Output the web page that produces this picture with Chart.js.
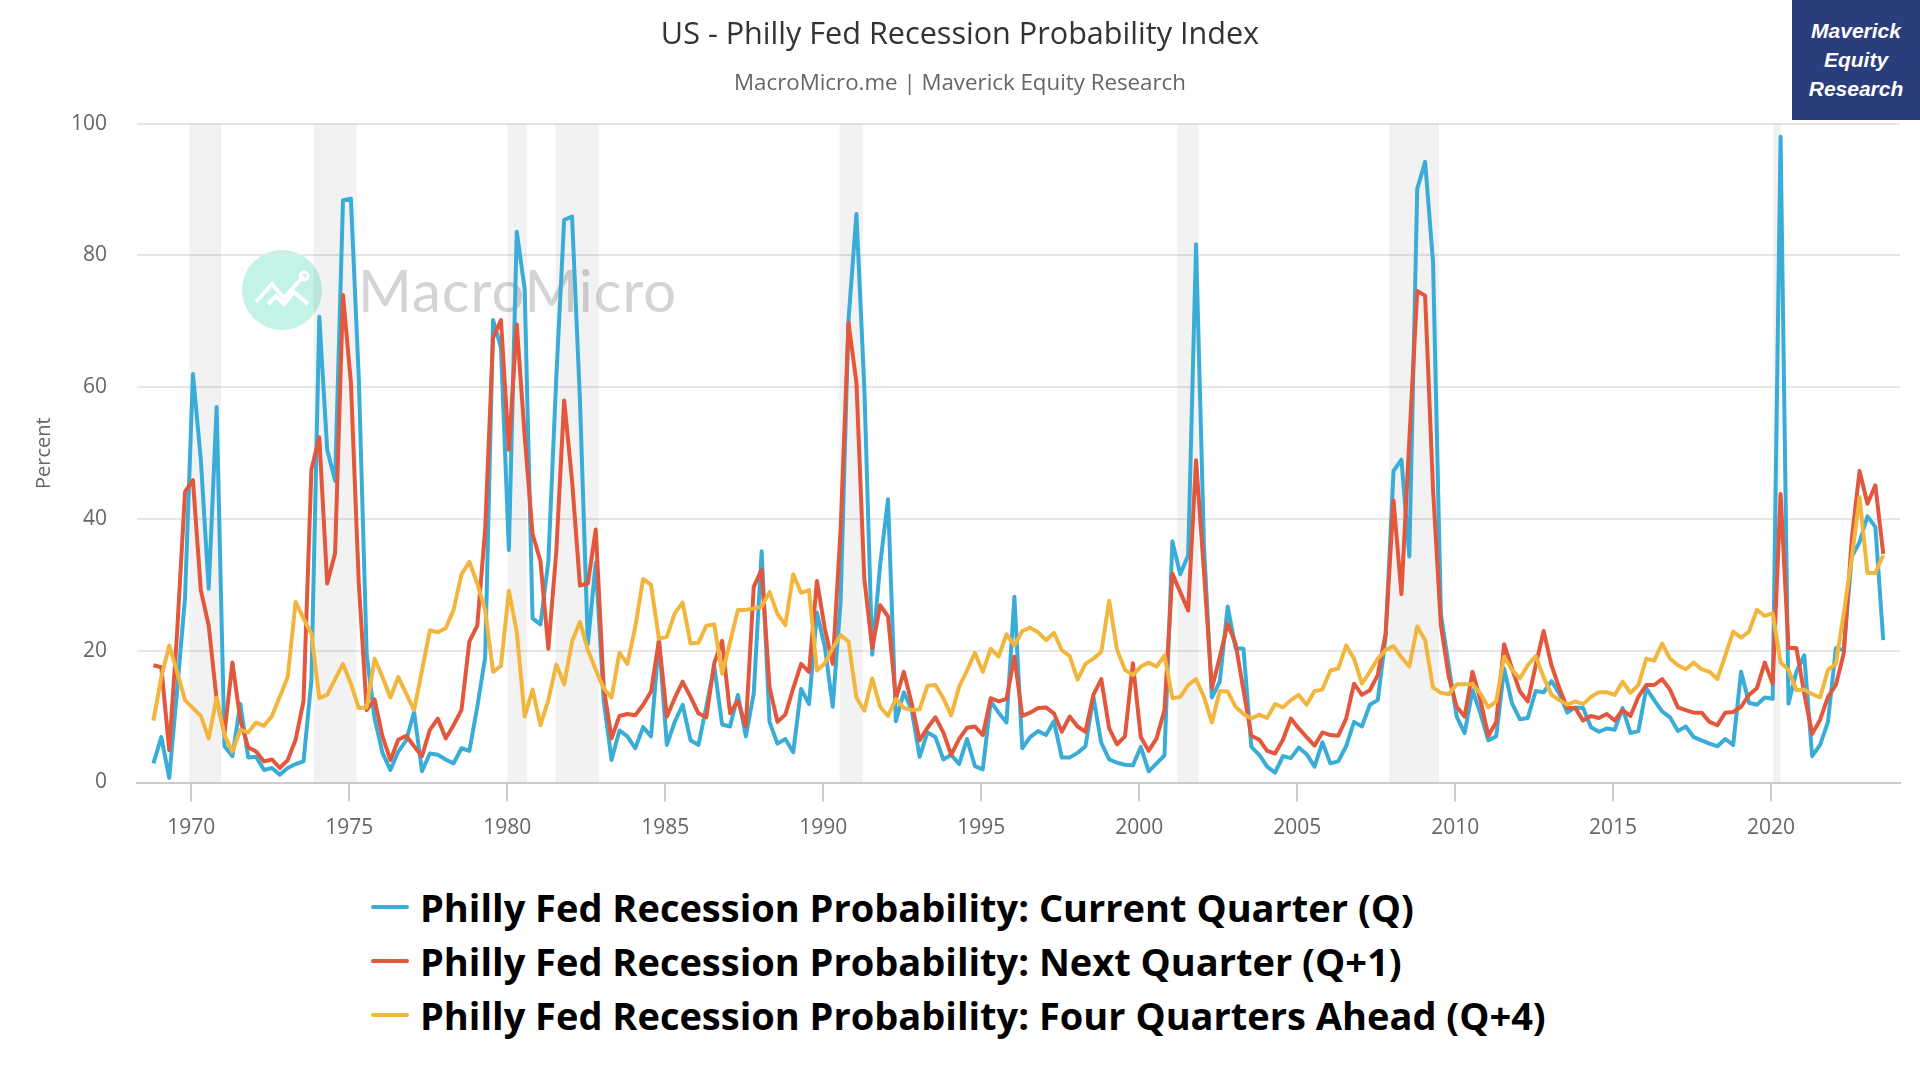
<!DOCTYPE html>
<html>
<head>
<meta charset="utf-8">
<title>US - Philly Fed Recession Probability Index</title>
<script src="https://cdn.jsdelivr.net/npm/chart.js@4/dist/chart.umd.min.js"></script>
<style>
	html, body { margin: 0; padding: 0; background: #fff; }
	#page { position: relative; width: 1920px; height: 1080px; overflow: hidden; font-family: "Open Sans", sans-serif; }
	#probChart { position: absolute; left: 0; top: 0; z-index: 2; }
	#mark { position: absolute; left: 242px; top: 250px; z-index: 1; }
	#markText { position: absolute; left: 358px; top: 250px; z-index: 1; font-family: Lato, sans-serif; font-size: 58px; line-height: 80px; color: #d4d4d4; letter-spacing: 1px; }
	#badge { position: absolute; left: 1792px; top: 0; width: 128px; height: 120px; z-index: 3; background: #2a3d7c; color: #fff; text-align: center; font: italic bold 21px/29px "Liberation Sans", sans-serif; padding-top: 16px; box-sizing: border-box; }
	#legend { position: absolute; left: 371px; top: 880px; z-index: 3; }
	.row { display: flex; align-items: center; height: 54.2px; font-weight: 700; font-size: 38px; color: #000; white-space: nowrap; }
	.swatch { width: 38px; height: 4px; border-radius: 2px; margin-right: 11px; }
</style>
</head>
<body>
<div id="page">
	<svg id="mark" width="80" height="80" viewBox="0 0 80 80">
		<circle cx="40" cy="40" r="40" fill="#c3f2e7"></circle>
		<polyline points="14,52 30,34 42,48 58,30 62,26" fill="none" stroke="#fff" stroke-width="4"></polyline>
		<polyline points="26,54 34,46 42,54 52,42 66,54" fill="none" stroke="#fff" stroke-width="4"></polyline>
		<circle cx="62" cy="26" r="4" fill="none" stroke="#fff" stroke-width="3"></circle>
	</svg>
	<div id="markText">MacroMicro</div>
	<canvas id="probChart" width="1920" height="860"></canvas>
	<div id="badge">Maverick<br>Equity<br>Research</div>
	<div id="legend"></div>
</div>
<script>
	const chartTitle = 'US - Philly Fed Recession Probability Index';
	const chartSubtitle = 'MacroMicro.me | Maverick Equity Research';

	// quarterly, 1968 Q4 to 2023 Q3
	const firstYear = 1968;
	const firstQuarter = 4;

	const currentQuarter = [
		2.9, 6.9, 0.7, 14, 28, 62, 49, 29.4, 57, 5.5,
		4, 11.9, 3.8, 3.9, 1.9, 2.2, 1.2, 2.2, 2.8, 3.2,
		15.5, 70.7, 50.5, 45.8, 88.4, 88.6, 61.4, 19.4, 9.7, 4.5,
		1.9, 4.7, 6.4, 10.7, 1.7, 4.4, 4.2, 3.5, 2.9, 5.2,
		4.8, 11.5, 19, 70.2, 66, 35.3, 83.6, 74.9, 24.9, 24,
		33.6, 61.4, 85.4, 85.9, 58, 21, 33.4, 12.5, 3.4, 7.9,
		7, 5.2, 8.4, 7, 21.6, 5.7, 9.2, 11.8, 6.4, 5.7,
		11.5, 17.6, 8.8, 8.5, 13.3, 7, 13.5, 35.1, 9.2, 5.9,
		6.6, 4.6, 14.2, 11.9, 25.8, 20.6, 11.5, 27.5, 70.2, 86.3,
		60, 19.4, 33, 43, 9.3, 13.7, 11, 3.9, 7.6, 6.9,
		3.5, 4.2, 2.8, 6.6, 2.5, 2, 12.3, 10.6, 9.1, 28.2,
		5.2, 6.9, 7.8, 7.2, 9.3, 3.8, 3.8, 4.5, 5.5, 13,
		6, 3.5, 3, 2.7, 2.6, 5.4, 1.7, 2.9, 4.1, 36.6,
		31.6, 34.5, 81.7, 36, 12.9, 15.3, 26.7, 20.4, 20.3, 5.4,
		4.2, 2.4, 1.5, 4, 3.7, 5.3, 4.3, 2.4, 6.1, 2.9,
		3.2, 5.5, 9.2, 8.5, 11.8, 12.5, 22.1, 47.3, 49, 34.3,
		90.1, 94.2, 79, 25.5, 17.6, 10, 7.5, 14, 10.5, 6.4,
		7, 17.3, 12, 9.6, 9.8, 13.9, 13.7, 15.4, 13.5, 10.6,
		11.4, 11.3, 8.4, 7.7, 8.2, 8, 11.3, 7.5, 7.8, 14.3,
		12.5, 10.8, 9.9, 7.8, 8.5, 6.9, 6.4, 5.9, 5.5, 6.6,
		5.7, 16.8, 12.1, 11.8, 12.9, 12.7, 98, 12, 16.8, 19.3,
		4, 5.7, 9.2, 20.4, 20.1, 34.2, 36.5, 40.4, 38.8, 21.6
	];
	const nextQuarter = [
		17.8, 17.5, 4.9, 22.8, 44.1, 45.9, 29.2, 23.8, 12.6, 7.5,
		18.2, 9.5, 5.3, 4.7, 3.2, 3.5, 2.2, 3.4, 6.5, 12.3,
		47.5, 52.4, 30.2, 34.8, 74, 60.7, 30.2, 11, 12.6, 7,
		3.4, 6.5, 7.1, 5.5, 4, 8, 9.7, 6.7, 8.7, 11,
		21.4, 23.8, 38.4, 67.5, 70.2, 50.5, 69.5, 52.6, 37.7, 33.6,
		20.3, 35, 58, 45.8, 29.9, 30.2, 38.4, 14.5, 6.7, 10.1,
		10.4, 10.2, 11.8, 13.8, 21.6, 10, 12.8, 15.3, 13, 10.5,
		9.9, 18.1, 21.5, 10.5, 12.4, 8.5, 29.7, 32.3, 14.5, 9.2,
		10.3, 14.3, 18, 16.8, 30.6, 23.4, 18, 38.4, 69.8, 60.7,
		30.9, 20.4, 26.9, 25.2, 12.7, 16.8, 12, 6.4, 8.3, 9.9,
		7.6, 4.2, 6.6, 8.3, 8.5, 7.2, 12.8, 12.3, 12.7, 19.1,
		10.1, 10.6, 11.3, 11.4, 10.5, 7.7, 10, 8.5, 7.7, 13.3,
		15.7, 8.2, 5.8, 7, 18.1, 6.9, 4.8, 6.7, 11, 31.7,
		28.9, 26.1, 48.9, 32, 14.3, 19, 24.1, 21.1, 14, 7.1,
		6.5, 4.8, 4.4, 6.5, 9.7, 8.2, 6.9, 5.6, 7.6, 7.2,
		7.1, 9.7, 15, 13.3, 14, 16.3, 22.6, 42.8, 28.6, 52,
		74.6, 73.9, 44.5, 23.8, 16, 11.5, 10, 16.8, 12.5, 7.1,
		9.2, 21, 17.3, 13.8, 12.3, 17.8, 23, 17.8, 14.3, 11.3,
		11.3, 9.4, 10.1, 9.8, 10.4, 9.4, 11, 10.1, 13, 14.8,
		14.8, 15.7, 14.1, 11.4, 11, 10.6, 10.6, 9.2, 8.7, 10.6,
		10.7, 11.5, 13.3, 14.3, 18.2, 15, 43.8, 20.4, 20.4, 13.5,
		7.4, 9.5, 13, 14.8, 19.6, 36.8, 47.3, 42.3, 45.1, 34.7
	];
	const fourQuartersAhead = [
		9.4, 16, 20.8, 16.8, 12.5, 11.3, 10.1, 6.7, 12.9, 7.2,
		4.7, 8, 7.6, 9.1, 8.6, 10.1, 13, 16, 27.4, 24.9,
		22.6, 12.8, 13.3, 15.7, 18, 15, 11.3, 11.4, 18.8, 16,
		12.9, 16, 13.5, 11, 17, 23.1, 22.8, 23.4, 26.2, 31.6,
		33.5, 30.2, 26.2, 16.8, 17.7, 29.1, 22.9, 10, 14.1, 8.7,
		12.5, 17.9, 14.9, 21.4, 24.4, 20.1, 17.1, 14.3, 12.9, 19.7,
		18, 23.6, 30.9, 30, 21.8, 22.1, 25.7, 27.3, 21.1, 21.2,
		23.8, 24, 16.5, 21.3, 26.2, 26.2, 26.4, 26.7, 28.9, 25.6,
		23.9, 31.6, 28.8, 29.2, 17, 18.1, 20.4, 22.4, 21.4, 12.9,
		10.9, 15.8, 11.5, 10.1, 12.7, 11.3, 11, 11.1, 14.7, 14.8,
		12.8, 10.2, 14.5, 17, 19.7, 16.8, 20.3, 19.1, 22.5, 20.8,
		23, 23.5, 22.8, 21.6, 22.7, 20.1, 19.2, 15.6, 18, 18.8,
		19.8, 27.6, 20.1, 17.1, 16.3, 17.6, 18.2, 17.6, 19.3, 12.8,
		13, 14.8, 15.7, 13, 9.1, 13.9, 13.8, 11.5, 10.4, 9.7,
		10.3, 9.8, 11.9, 11.4, 12.5, 13.3, 11.8, 13.9, 14.1, 17,
		17.3, 20.8, 18.8, 15, 16.8, 18.8, 20.1, 20.7, 19, 17.6,
		23.7, 21.6, 14.4, 13.6, 13.4, 14.9, 14.9, 14.9, 13.5, 11.4,
		12.3, 19.1, 17.1, 15.8, 17.8, 19.2, 16, 13.3, 12.5, 11.8,
		12.3, 11.9, 13, 13.7, 13.7, 13.3, 15.3, 13.6, 14.8, 18.8,
		18.5, 21.1, 18.8, 17.8, 17.2, 18.2, 17.2, 16.8, 15.7, 19.3,
		22.9, 22, 22.9, 26.2, 25.3, 25.7, 18.2, 17.1, 14, 14.1,
		13.4, 12.9, 17.1, 18, 25.7, 34, 43.3, 31.8, 31.8, 34.5
	];

	const seriesNames = [
		'Philly Fed Recession Probability: Current Quarter (Q)',
		'Philly Fed Recession Probability: Next Quarter (Q+1)',
		'Philly Fed Recession Probability: Four Quarters Ahead (Q+4)'
	];
	const seriesColors = ['#3aacd8', '#e3573d', '#f2b63f'];
	const yearTicks = [1970, 1975, 1980, 1985, 1990, 1995, 2000, 2005, 2010, 2015, 2020];
	const recessionStarts = [1969.94, 1973.87, 1980.0, 1981.52, 1990.52, 2001.21, 2007.91, 2020.07];
	const recessionEnds = [1970.94, 1975.24, 1980.62, 1982.9, 1991.25, 2001.88, 2009.49, 2020.3];

	// each point sits a little after the start of its quarter
	function toPoints(values) {
		return values.map(function (value, i) {
			return { x: firstYear + (firstQuarter - 1 + i) / 4 + 0.05, y: value };
		});
	}

	const recessionBands = {
		id: 'recessionBands',
		beforeDatasetsDraw: function (chart) {
			const ctx = chart.ctx;
			const area = chart.chartArea;
			const xScale = chart.scales.x;
			ctx.save();
			ctx.fillStyle = 'rgba(0, 0, 0, 0.05)';
			recessionStarts.forEach(function (start, i) {
				const left = xScale.getPixelForValue(start);
				const right = xScale.getPixelForValue(recessionEnds[i]);
				ctx.fillRect(left, area.top, right - left, area.bottom - area.top);
			});
			ctx.restore();
		}
	};

	const legendBox = document.getElementById('legend');
	seriesNames.forEach(function (name, i) {
		const row = document.createElement('div');
		row.className = 'row';
		const swatch = document.createElement('span');
		swatch.className = 'swatch';
		swatch.style.background = seriesColors[i];
		const label = document.createElement('span');
		label.textContent = name;
		row.appendChild(swatch);
		row.appendChild(label);
		legendBox.appendChild(row);
	});

	const ctx = document.getElementById('probChart').getContext('2d');
	new Chart(ctx, {
		type: 'line',
		data: {
			datasets: [currentQuarter, nextQuarter, fourQuartersAhead].map(function (values, i) {
				return {
					label: seriesNames[i],
					data: toPoints(values),
					borderColor: seriesColors[i],
					borderWidth: 4,
					borderJoinStyle: 'round',
					pointRadius: 0,
					tension: 0,
					fill: false,
					order: 3 - i
				};
			})
		},
		options: {
			responsive: false,
			animation: false,
			devicePixelRatio: 1,
			layout: { padding: { left: 20, right: 20, top: 0, bottom: 0 } },
			plugins: {
				legend: { display: false },
				tooltip: { enabled: false },
				title: {
					display: true,
					text: chartTitle,
					color: '#333333',
					font: { family: '"Open Sans"', size: 30.6, weight: 'normal', lineHeight: 1.2 },
					padding: { top: 16.5, bottom: 10 }
				},
				subtitle: {
					display: true,
					text: chartSubtitle,
					color: '#666666',
					font: { family: '"Open Sans"', size: 22.3, weight: 'normal', lineHeight: 1.2 },
					padding: { top: 7.4, bottom: 26.3 }
				}
			},
			scales: {
				x: {
					type: 'linear',
					min: 1968.28,
					max: 2024.08,
					afterBuildTicks: function (scale) {
						scale.ticks = yearTicks.map(function (year) {
							return { value: year };
						});
					},
					afterFit: function (scale) {
						scale.height = 77.5;
					},
					border: { color: '#cccccc', width: 2 },
					grid: { drawOnChartArea: false, drawTicks: true, tickLength: 19, color: '#cccccc', lineWidth: 2 },
					ticks: {
						autoSkip: false,
						maxRotation: 0,
						padding: 14,
						color: '#666666',
						font: { family: '"Open Sans"', size: 21 },
						callback: function (value) {
							return String(value);
						}
					}
				},
				y: {
					min: 0,
					max: 100,
					afterFit: function (scale) {
						scale.width = 117;
					},
					border: { display: false },
					grid: { color: '#e6e6e6', lineWidth: 2, drawTicks: false },
					ticks: {
						stepSize: 20,
						padding: 30,
						color: '#666666',
						font: { family: '"Open Sans"', size: 21 }
					},
					title: {
						display: true,
						text: 'Percent',
						color: '#666666',
						font: { family: '"Open Sans"', size: 20 },
						padding: { top: 12, bottom: 0 }
					}
				}
			}
		},
		plugins: [recessionBands]
	});
</script>
</body>
</html>
